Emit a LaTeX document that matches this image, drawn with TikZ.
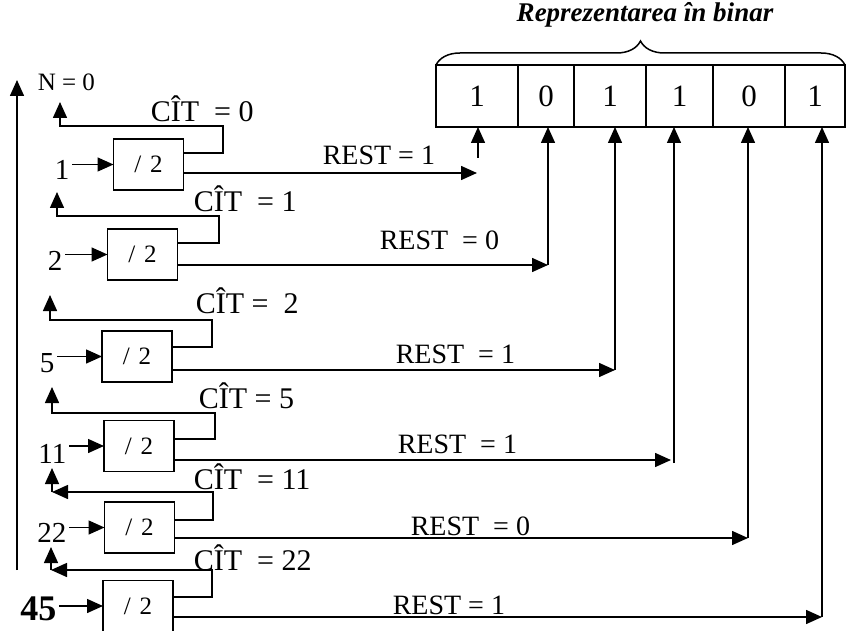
\documentclass[tikz,border=0pt]{standalone}
\usepackage{fontspec}
\setmainfont{Liberation Serif}
\usetikzlibrary{arrows.meta, positioning, decorations.pathreplacing}

\begin{document}
\begin{tikzpicture}[
            x=1pt, y=-1pt,
            line width=1.5pt,
            >={Triangle[length=16pt, width=14pt]},
            divbox/.style={rectangle, draw, minimum width=70pt, minimum height=51pt, inner sep=0pt, outer sep=0pt, font=\fontsize{25}{28}\selectfont},
            bit/.style={rectangle, draw, minimum height=62pt, inner sep=0pt, outer sep=0pt, font=\fontsize{31}{36}\selectfont},
            innum/.style={anchor=base east, inner sep=2pt, font=\fontsize{29}{34}\selectfont},
            cit/.style={anchor=base west, inner sep=0pt, font=\fontsize{30}{34}\selectfont},
            rest/.style={anchor=base west, inner sep=0pt, font=\fontsize{28}{32}\selectfont}
        ]
            \useasboundingbox (0,0) rectangle (846,631);
            \clip (0,0) rectangle (846,631);

            % registrul binar
            \node (title) [anchor=base, font=\fontsize{27}{32}\selectfont\bfseries\itshape] at (645,22) {Reprezentarea în binar};
            \node (b1) [bit, minimum width=82pt, anchor=west] at (436,96) {1};
            \node (b2) [bit, minimum width=56pt, right=0pt of b1] {0};
            \node (b3) [bit, minimum width=72pt, right=0pt of b2] {1};
            \node (b4) [bit, minimum width=67pt, right=0pt of b3] {1};
            \node (b5) [bit, minimum width=72pt, right=0pt of b4] {0};
            \node (b6) [bit, minimum width=60pt, right=0pt of b5] {1};
            \draw[decorate, decoration={brace, amplitude=24pt}] (b1.north west) -- (b6.north east);

            \node (nzero) [anchor=base west, inner sep=0pt, font=\fontsize{25}{30}\selectfont] at (37,91) {N = 0};
            \coordinate (nbot) at (17,570);
            \coordinate (ntop) at (17,80);
            \draw[->] (nbot) -- (ntop);

            % impartiri succesive
            \node (div1) [divbox] at (148.5,164.5) {/\hspace{0.35em}2};
            \node (div2) [divbox] at (142.5,254.5) {/\hspace{0.35em}2};
            \node (div3) [divbox] at (137,356.5) {/\hspace{0.35em}2};
            \node (div4) [divbox] at (139,446) {/\hspace{0.35em}2};
            \node (div5) [divbox] at (139.5,527.5) {/\hspace{0.35em}2};
            \node (div6) [divbox] at (138,606) {/\hspace{0.35em}2};

            \node (in1) [innum] at (72,180) {1};
            \node (in2) [innum] at (65,270) {2};
            \node (in3) [innum] at (57,372) {5};
            \node (in4) [innum] at (69,463) {11};
            \node (in5) [innum] at (69,542) {22};
            \node (in6) [innum, font=\fontsize{36}{40}\selectfont\bfseries] at (59,620) {45};

            \node (cit1) [cit] at (150,122) {CÎT\ \ = 0};
            \node (cit2) [cit] at (193,212) {CÎT\ \ = 1};
            \node (cit3) [cit] at (195,313) {CÎT =\ \ 2};
            \node (cit4) [cit] at (198,408) {CÎT = 5};
            \node (cit5) [cit] at (193,489) {CÎT\ \ = 11};
            \node (cit6) [cit] at (193,570) {CÎT\ \ = 22};

            \node (rest1) [rest] at (322,165) {REST = 1};
            \node (rest2) [rest] at (379,250) {REST\ \ = 0};
            \node (rest3) [rest] at (395,363) {REST\ \ = 1};
            \node (rest4) [rest] at (397,453) {REST\ \ = 1};
            \node (rest5) [rest] at (410,535) {REST\ \ = 0};
            \node (rest6) [rest] at (392,614) {REST = 1};

            \coordinate (q1) at (60,102);
            \coordinate (q2) at (57,192);
            \coordinate (q3) at (50,295);
            \coordinate (q4) at (52,387);
            \coordinate (q5) at (52,468);
            \coordinate (k5) at (52,492);
            \coordinate (q6) at (51,547);
            \coordinate (k6) at (51,570);

            \coordinate (r1) at (477,173);
            \coordinate (s1) at (478,158);
            \coordinate (r2) at (548,265);
            \coordinate (r3) at (615,370);
            \coordinate (r4) at (671,460);
            \coordinate (v4) at (674,463);
            \coordinate (r5) at (748,538);
            \coordinate (r6) at (822,617);

            % intrari
            \draw[->] (in1.east |- div1.west) -- (div1.west);
            \draw[->] (in2.east |- div2.west) -- (div2.west);
            \draw[->] (in3.east |- div3.west) -- (div3.west);
            \draw[->] (in4.east |- div4.west) -- (div4.west);
            \draw[->] (in5.east |- div5.west) -- (div5.west);
            \draw[->] (in6.east |- div6.west) -- (div6.west);

            % catul
            \draw[->] (div1.east |- 0,153) -| (223,126) -| (q1);
            \draw[->] (div2.east |- 0,243) -| (219,216) -| (q2);
            \draw[->] (div3.east |- 0,347) -| (212,320) -| (q3);
            \draw[->] (div4.east |- 0,439) -| (215,413) -| (q4);
            \draw[->] (div5.east |- 0,520) -| (213,492) -- (k5);
            \draw[->] (k5) -- (q5);
            \draw[->] (div6.east |- 0,597) -| (212,570) -- (k6);
            \draw[->] (k6) -- (q6);

            % restul
            \draw[->] (div1.east |- r1) -- (r1);
            \draw[->] (div2.east |- r2) -- (r2);
            \draw[->] (div3.east |- r3) -- (r3);
            \draw[->] (div4.east |- r4) -- (r4);
            \draw[->] (div5.east |- r5) -- (r5);
            \draw[->] (div6.east |- r6) -- (r6);

            \draw[->] (s1) -- (s1 |- b1.south);
            \draw[->] (r2) -- (r2 |- b2.south);
            \draw[->] (r3) -- (r3 |- b3.south);
            \draw[->] (v4) -- (v4 |- b4.south);
            \draw[->] (r5) -- (r5 |- b5.south);
            \draw[->] (r6) -- (r6 |- b6.south);
        \end{tikzpicture}
\end{document}
